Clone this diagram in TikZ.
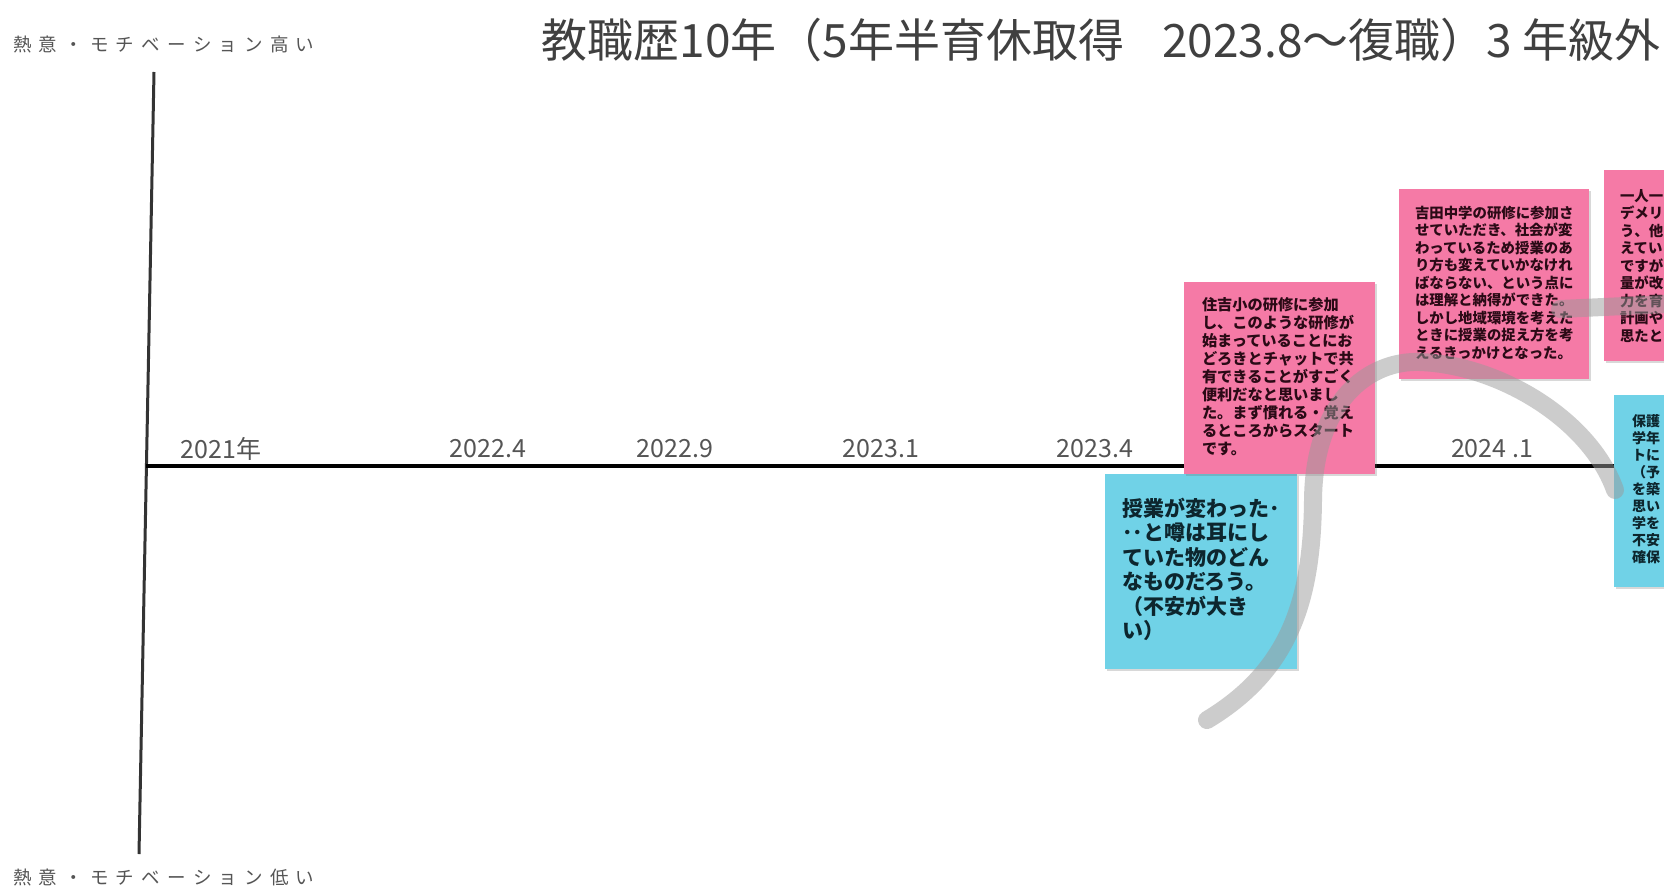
\documentclass[tikz,border=0pt]{standalone}
\usepackage{fontspec}
\setmainfont{Noto Sans CJK JP}
\usetikzlibrary{shadows}
\definecolor{notepink}{HTML}{F57AA6}
\definecolor{noteblue}{HTML}{70D2E7}
\definecolor{pinktext}{HTML}{2B0A16}
\definecolor{bluetext}{HTML}{0D262E}
\definecolor{labelgray}{HTML}{555555}
\definecolor{titlegray}{HTML}{404040}
\definecolor{curvegray}{HTML}{9A9A9A}
\newcommand\mylsp{\kern7.2pt}
\begin{document}
\begin{tikzpicture}[x=1pt,y=-1pt,
  notebox/.style={inner sep=0pt, draw=none, minimum width=191pt, minimum height=192pt,
    drop shadow={shadow xshift=2pt, shadow yshift=-2pt, opacity=0.25, fill=black!60}},
  pinknote/.style={notebox, fill=notepink},
  bluenote/.style={notebox, fill=noteblue},
  notetext/.style={anchor=north west, inner sep=0pt, align=left},
  yearlabel/.style={inner sep=0pt, text=labelgray, font=\fontsize{25}{25}\selectfont},
  axislabel/.style={inner sep=0pt, anchor=west, text=labelgray, font=\fontsize{18.5}{18.5}\selectfont},
  curve/.style={draw=curvegray, opacity=0.5, line width=18pt, line cap=round, line join=round}]
\useasboundingbox (0,0) rectangle (1664,888);
\fill[white] (0,0) rectangle (1664,888);
\clip (0,0) rectangle (1664,888);

% axes
\coordinate (vtop) at (154,72);
\coordinate (vbot) at (139,854);
\coordinate (h0) at (146.4,466);
\coordinate (h1) at (1625,466);
\draw[line width=3pt, draw=black!80] (vtop) -- (vbot);
\draw[line width=4pt, draw=black] (h0) -- (h1);

% axis labels
\node[axislabel] (high) at (13,44) {熱\mylsp 意\mylsp ・\mylsp モ\mylsp チ\mylsp ベ\mylsp ー\mylsp シ\mylsp ョ\mylsp ン\mylsp 高\mylsp い};
\node[axislabel] (low) at (13,877) {熱\mylsp 意\mylsp ・\mylsp モ\mylsp チ\mylsp ベ\mylsp ー\mylsp シ\mylsp ョ\mylsp ン\mylsp 低\mylsp い};

% title
\node[inner sep=0pt, text=titlegray, font=\fontsize{46}{46}\selectfont] (title) at (1101,40)
  {教職歴10年（5年半育休取得\hspace{38pt}2023.8〜復職）3 年級外};

% year labels
\node[yearlabel] (y1) at (221,449) {2021年};
\node[yearlabel] (y2) at (488,449) {2022.4};
\node[yearlabel] (y3) at (675,449) {2022.9};
\node[yearlabel] (y4) at (881,449) {2023.1};
\node[yearlabel] (y5) at (1095,449) {2023.4};
\node[yearlabel] (y6) at (1492,449) {2024 .1};

% notes
\node[bluenote, minimum width=192pt, minimum height=195pt] (b1) at (1201,571.5) {};
\node[notetext, text=bluetext, font=\bfseries\fontsize{21}{24.5}\selectfont] (b1t) at ([xshift=17pt,yshift=-24pt]b1.north west)
  {授業が変わった･\\･･と噂は耳にし\\ていた物のどん\\なものだろう。\\（不安が大き\\い）};

\node[pinknote] (p1) at (1279.5,378) {};
\node[notetext, text=pinktext, font=\bfseries\fontsize{15.2}{18}\selectfont] (p1t) at ([xshift=18pt,yshift=-15pt]p1.north west)
  {住吉小の研修に参加\\し、このような研修が\\始まっていることにお\\どろきとチャットで共\\有できることがすごく\\便利だなと思いまし\\た。まず慣れる・覚え\\るところからスタート\\です。};

\node[pinknote, minimum width=190pt, minimum height=190pt] (p2) at (1494,284) {};
\node[notetext, text=pinktext, font=\bfseries\fontsize{14.4}{17.5}\selectfont] (p2t) at ([xshift=16pt,yshift=-17pt]p2.north west)
  {吉田中学の研修に参加さ\\せていただき、社会が変\\わっているため授業のあ\\り方も変えていかなけれ\\ばならない、という点に\\は理解と納得ができた。\\しかし地域環境を考えた\\ときに授業の捉え方を考\\えるきっかけとなった。};

\node[pinknote, minimum width=190pt, minimum height=191pt] (p3) at (1699,265.5) {};
\node[notetext, text=pinktext, font=\bfseries\fontsize{14.4}{17.5}\selectfont] (p3t) at ([xshift=16pt,yshift=-19pt]p3.north west)
  {一人一\\デメリ\\う、他\\えてい\\ですが\\量が改\\力を育\\計画や\\思たと};

\node[bluenote, minimum width=190pt, minimum height=192pt] (b2) at (1709,491) {};
\node[notetext, text=bluetext, font=\bfseries\fontsize{14}{17}\selectfont] (b2t) at ([xshift=18pt,yshift=-20pt]b2.north west)
  {保護\\学年\\トに\\（予\\を築\\思い\\学を\\不安\\確保};

% hand-drawn motivation curve
\coordinate (c0) at (1207,720);
\coordinate (c1) at (1313,500);
\coordinate (c2) at (1420,362);
\coordinate (c3) at (1615,490);
\draw[curve] (c0) .. controls (1290,670) and (1312,600) .. (c1)
  .. controls (1314,400) and (1370,360) .. (c2)
  .. controls (1500,365) and (1590,420) .. (c3);
\coordinate (d0) at (1560,309);
\coordinate (d1) at (1690,303);
\draw[curve] (d0) -- (d1);
\end{tikzpicture}
\end{document}
